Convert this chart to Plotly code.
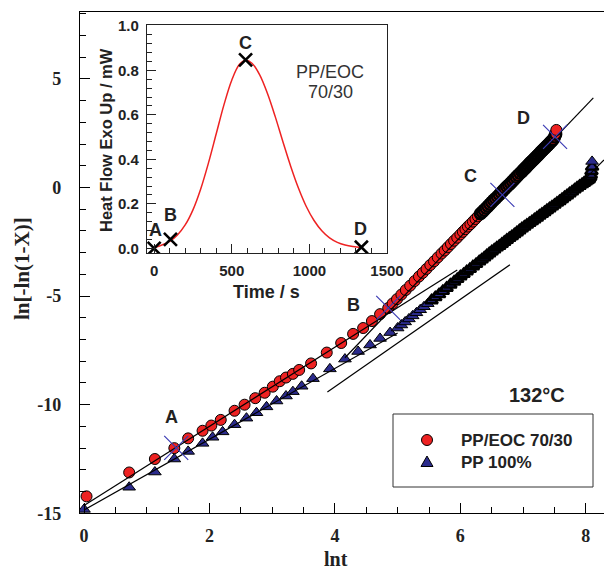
import plotly.graph_objects as go

# ---------------- data ----------------
# PP/EOC 70/30 : ln[-ln(1-X)] vs lnt
red_lnt_early = [0.04, 0.72, 1.13, 1.44, 1.66, 1.89, 2.03, 2.18, 2.40, 2.56, 2.73, 2.88,
                 3.01, 3.12, 3.22, 3.33, 3.43, 3.62, 3.87, 4.10, 4.29, 4.45, 4.59, 4.72]
red_y_early = [-14.22, -13.12, -12.50, -12.00, -11.55, -11.20, -10.96, -10.70, -10.28, -10.00,
               -9.70, -9.45, -9.17, -8.92, -8.75, -8.58, -8.40, -8.10, -7.60, -7.16, -6.74,
               -6.47, -6.15, -5.83]
red_lnt_late = [4.85, 4.92, 4.99, 5.06, 5.13, 5.20, 5.27, 5.34, 5.40, 5.46, 5.52, 5.58, 5.64,
                5.70, 5.75, 5.80, 5.85, 5.90, 5.95, 6.00, 6.04, 6.08, 6.12, 6.16, 6.20, 6.24,
                6.28, 6.32, 6.35, 6.38, 6.41, 6.44, 6.47, 6.50, 6.53, 6.56, 6.59, 6.62, 6.65,
                6.68, 6.71, 6.74, 6.77, 6.80, 6.83, 6.86, 6.89, 6.92, 6.95, 6.98, 7.00, 7.02,
                7.04, 7.06, 7.08, 7.10, 7.12, 7.14, 7.16, 7.18, 7.20, 7.22, 7.24, 7.26, 7.28,
                7.30, 7.32, 7.34, 7.36, 7.38, 7.40, 7.42, 7.44, 7.46, 7.48, 7.50, 7.52]
red_y_late = [-5.55, -5.34, -5.14, -4.93, -4.72, -4.52, -4.31, -4.10, -3.93, -3.75, -3.57,
              -3.40, -3.22, -3.04, -2.90, -2.75, -2.60, -2.45, -2.31, -2.16, -2.04, -1.92,
              -1.80, -1.69, -1.57, -1.45, -1.33, -1.21, -1.13, -1.04, -0.95, -0.86, -0.77,
              -0.68, -0.59, -0.51, -0.42, -0.33, -0.24, -0.15, -0.06, 0.03, 0.11, 0.20, 0.29,
              0.38, 0.47, 0.56, 0.65, 0.73, 0.79, 0.85, 0.91, 0.97, 1.03, 1.09, 1.15, 1.21,
              1.26, 1.32, 1.38, 1.44, 1.50, 1.56, 1.62, 1.68, 1.74, 1.80, 1.85, 1.91, 1.97,
              2.03, 2.09, 2.15, 2.21, 2.33, 2.45]
red_lnt_end = [7.53]
red_y_end = [2.65]

# PP 100%
blue_lnt_early = [0.0, 0.72, 1.13, 1.44, 1.66, 1.89, 2.05, 2.21, 2.40, 2.59, 2.75, 2.91,
                  3.07, 3.22, 3.33, 3.47, 3.65, 3.92, 4.16, 4.37, 4.56, 4.72, 4.88, 5.00]
blue_y_early = [-14.82, -13.80, -13.10, -12.50, -12.15, -11.78, -11.50, -11.25, -10.92,
                -10.62, -10.37, -10.10, -9.83, -9.60, -9.40, -9.15, -8.80, -8.35, -7.90,
                -7.55, -7.25, -6.95, -6.68, -6.47]
blue_lnt_late = [5.06, 5.12, 5.18, 5.24, 5.30, 5.36, 5.42, 5.48, 5.54, 5.60, 5.66, 5.72, 5.78,
                 5.84, 5.90, 5.95, 6.00, 6.05, 6.10, 6.15, 6.20, 6.25, 6.30, 6.34, 6.38, 6.42,
                 6.46, 6.50, 6.54, 6.58, 6.62, 6.66, 6.70, 6.74, 6.78, 6.82, 6.86, 6.90, 6.94,
                 6.98, 7.02, 7.06, 7.10, 7.14, 7.18, 7.22, 7.26, 7.30, 7.34, 7.38, 7.42, 7.46,
                 7.50, 7.54, 7.58, 7.62, 7.66, 7.70, 7.74, 7.78, 7.82, 7.86, 7.90, 7.94, 7.97,
                 8.00, 8.03, 8.05, 8.07, 8.08, 8.09, 8.10]
blue_y_late = [-6.33, -6.19, -6.05, -5.91, -5.77, -5.63, -5.49, -5.35, -5.20, -5.06, -4.92,
               -4.77, -4.63, -4.48, -4.34, -4.22, -4.10, -3.99, -3.87, -3.76, -3.64, -3.53,
               -3.41, -3.32, -3.23, -3.13, -3.04, -2.95, -2.86, -2.77, -2.69, -2.60, -2.51,
               -2.42, -2.33, -2.25, -2.16, -2.07, -1.98, -1.89, -1.81, -1.72, -1.64, -1.56,
               -1.47, -1.39, -1.30, -1.22, -1.14, -1.05, -0.97, -0.88, -0.80, -0.71, -0.63,
               -0.54, -0.45, -0.37, -0.28, -0.19, -0.10, -0.01, 0.07, 0.15, 0.21, 0.27, 0.33,
               0.38, 0.48, 0.58, 0.75, 0.95]
blue_lnt_end = [8.10]
blue_y_end = [1.20]

# fitted straight lines (end points)
fit_red_early_x, fit_red_early_y = [0.0, 5.95], [-14.64, -3.80]
fit_blue_early_x, fit_blue_early_y = [0.0, 5.00], [-14.85, -6.70]
fit_lower_x, fit_lower_y = [3.88, 6.79], [-9.42, -3.56]
fit_red_late_x, fit_red_late_y = [4.16, 8.12], [-7.84, 4.13]
fit_blue_late_x, fit_blue_late_y = [7.70, 8.29], [-0.44, 1.27]

# marked stages A-D on the PP/EOC curve
stage_names = ["A", "B", "C", "D"]
stage_lnt = [1.47, 4.85, 6.67, 7.51]
stage_y = [-11.99, -5.54, -0.34, 2.33]

# inset: DSC heat flow of PP/EOC 70/30
time_s = [0, 50, 100, 150, 200, 250, 300, 350, 400, 450, 500, 550, 590, 630, 680, 730, 780,
          830, 880, 930, 980, 1030, 1080, 1130, 1180, 1230, 1280, 1340]
heat_flow = [0.003, 0.015, 0.031, 0.060, 0.105, 0.173, 0.267, 0.384, 0.515, 0.646, 0.756,
             0.827, 0.845, 0.832, 0.780, 0.696, 0.592, 0.478, 0.368, 0.270, 0.188, 0.125,
             0.079, 0.047, 0.027, 0.015, 0.008, 0.003]
inset_stage_t = [0, 105, 589, 1335]
inset_stage_hf = [0.0, 0.04, 0.847, 0.005]

main_xticks = [0, 2, 4, 6, 8]
main_yticks = [-15, -10, -5, 0, 5]
inset_xticks = [0, 500, 1000, 1500]
inset_yticks = [0.0, 0.2, 0.4, 0.6, 0.8, 1.0]

# ---------------- styling ----------------
W, H = 604, 570
RED = "#ee2222"
NAVY = "#2b2b8c"
XBLUE = "#3c3cb4"
SERIF = "Liberation Serif"
SANS = "Liberation Sans"


def px(x):
    return x / W


def py(y):
    return 1 - y / H


fig = go.Figure()


def mk(xs, ys, symbol, color, lw, axes=("x", "y")):
    fig.add_trace(go.Scatter(
        x=xs, y=ys, mode="markers", xaxis=axes[0], yaxis=axes[1], showlegend=False,
        marker=dict(symbol=symbol, size=11, color=color, line=dict(color="black", width=lw))))


# PP 100 %
mk(blue_lnt_early, blue_y_early, "triangle-up", NAVY, 1)
bl_a = [(a, b) for a, b in zip(blue_lnt_late, blue_y_late) if a < 5.5]
bl_b = [(a, b) for a, b in zip(blue_lnt_late, blue_y_late) if a >= 5.5]
mk([p[0] for p in bl_a], [p[1] for p in bl_a], "triangle-up", NAVY, 1)
mk([p[0] for p in bl_b], [p[1] for p in bl_b], "triangle-up", NAVY, 2.4)
mk(blue_lnt_end, blue_y_end, "triangle-up", NAVY, 1)

# PP/EOC 70/30
mk(red_lnt_early, red_y_early, "circle", RED, 1)
rl_a = [(a, b) for a, b in zip(red_lnt_late, red_y_late) if a < 6.3]
rl_b = [(a, b) for a, b in zip(red_lnt_late, red_y_late) if a >= 6.3]
mk([p[0] for p in rl_a], [p[1] for p in rl_a], "circle", RED, 1)
mk([p[0] for p in rl_b], [p[1] for p in rl_b], "circle", RED, 2.4)
mk(red_lnt_end, red_y_end, "circle", RED, 1)

for fx, fy in [(fit_red_early_x, fit_red_early_y), (fit_blue_early_x, fit_blue_early_y),
               (fit_lower_x, fit_lower_y), (fit_red_late_x, fit_red_late_y),
               (fit_blue_late_x, fit_blue_late_y)]:
    fig.add_trace(go.Scatter(x=fx, y=fy, mode="lines", showlegend=False,
                             line=dict(color="black", width=1.2)))

fig.add_trace(go.Scatter(x=stage_lnt, y=stage_y, mode="markers", showlegend=False,
                         marker=dict(symbol="x-thin", size=24,
                                     line=dict(color=XBLUE, width=1.2))))

# inset
fig.add_trace(go.Scatter(x=time_s, y=heat_flow, mode="lines", xaxis="x2", yaxis="y2",
                         showlegend=False, line=dict(color=RED, width=1.5, shape="spline")))
fig.add_trace(go.Scatter(x=inset_stage_t, y=inset_stage_hf, mode="markers", xaxis="x2",
                         yaxis="y2", showlegend=False,
                         marker=dict(symbol="x-thin", size=13,
                                     line=dict(color="black", width=2.6))))


def txt(x, y, text, family, size, xref="paper", yref="paper", bold=True, angle=0,
        xanchor="center", color="#222"):
    return dict(x=x, y=y, xref=xref, yref=yref, text=text, showarrow=False,
                xanchor=xanchor, yanchor="middle", textangle=angle,
                font=dict(family=family, size=size, color=color,
                          weight="bold" if bold else "normal"))


ann = []
# main stage labels
for name, lx, ly in zip(stage_names, [1.40, 4.29, 6.16, 7.00], [-10.57, -5.40, 0.53, 3.19]):
    ann.append(txt(lx, ly, name, SANS, 18, "x", "y"))
ann.append(txt(7.22, -9.55, "132°C", SANS, 20, "x", "y"))
# inset stage labels
for name, lx, ly in zip(stage_names, [11, 105, 589, 1327], [0.082, 0.15, 0.925, 0.087]):
    ann.append(txt(lx, ly, name, SANS, 18, "x2", "y2"))
ann.append(txt(px(330), py(72), "PP/EOC", SANS, 18, bold=False, color="#333"))
ann.append(txt(px(330), py(92), "70/30", SANS, 18, bold=False, color="#333"))
# axis titles
ann.append(txt(px(22), py(269), "ln[-ln(1-X)]", SERIF, 21, angle=-90))
ann.append(txt(px(336), py(559), "lnt", SERIF, 20))
ann.append(txt(px(106), py(140), "Heat Flow Exo Up / mW", SANS, 16.5, angle=-90))
ann.append(txt(px(266), py(292), "Time / s", SANS, 18))
# legend texts
for t_, yy in [("PP/EOC 70/30", 440), ("PP 100%", 462)]:
    ann.append(txt(px(459), py(yy), t_, SANS, 17, xanchor="left"))

shapes = [
    dict(type="rect", xref="paper", yref="paper", x0=px(393), x1=px(593), y0=py(487),
         y1=py(414), line=dict(color="#333", width=1), fillcolor="white"),
    dict(type="circle", xref="paper", yref="paper", xsizemode="pixel", ysizemode="pixel",
         xanchor=px(427), yanchor=py(440), x0=-5.5, x1=5.5, y0=-5.5, y1=5.5,
         fillcolor=RED, line=dict(color="black", width=1)),
    dict(type="path", xref="paper", yref="paper", xsizemode="pixel", ysizemode="pixel",
         xanchor=px(427), yanchor=py(462), path="M -6,-4.5 L 6,-4.5 L 0,6 Z",
         fillcolor=NAVY, line=dict(color="black", width=1)),
]

tick_serif = dict(family=SERIF, size=18, color="#222", weight="bold")
tick_sans = dict(family=SANS, size=15, color="#222", weight="bold")

fig.update_layout(
    width=W, height=H, margin=dict(l=0, r=0, t=0, b=0, autoexpand=False),
    paper_bgcolor="white", plot_bgcolor="white", showlegend=False,
    annotations=ann, shapes=shapes,
    xaxis=dict(domain=[px(80), 1.0], range=[-0.064, 8.29], anchor="y", automargin=False,
               showline=True, linecolor="black", linewidth=1.3, mirror=True,
               showgrid=False, zeroline=False,
               tickmode="array", tickvals=main_xticks, ticktext=[str(v) for v in main_xticks],
               ticks="inside", ticklen=10, tickwidth=1.2, tickcolor="black",
               ticklabelstandoff=6, tickfont=tick_serif, ticklabeloverflow="allow",
               minor=dict(tickmode="linear", tick0=0, dtick=0.5, ticks="inside",
                          ticklen=6, tickwidth=1, tickcolor="black")),
    yaxis=dict(domain=[py(513.3), py(12)], range=[-15, 8.08], anchor="x", automargin=False,
               showline=True, linecolor="black", linewidth=1.3, mirror=False,
               showgrid=False, zeroline=False,
               tickmode="array", tickvals=main_yticks, ticktext=[str(v) for v in main_yticks],
               ticks="inside", ticklen=10, tickwidth=1.2, tickcolor="black",
               ticklabelstandoff=14, tickfont=tick_serif,
               minor=dict(tickmode="linear", tick0=0, dtick=1, ticks="inside",
                          ticklen=6, tickwidth=1, tickcolor="black")),
    xaxis2=dict(domain=[px(147), px(387)], range=[-46, 1500], anchor="y2", automargin=False,
                showline=True, linecolor="#222", linewidth=1.3, mirror=True,
                showgrid=False, zeroline=False,
                tickmode="array", tickvals=inset_xticks,
                ticktext=[str(v) for v in inset_xticks],
                ticks="inside", ticklen=9, tickwidth=1.2, tickcolor="#222",
                ticklabelstandoff=4, tickfont=tick_sans,
                minor=dict(tickmode="linear", tick0=0, dtick=100, ticks="inside",
                           ticklen=5, tickwidth=1, tickcolor="#222")),
    yaxis2=dict(domain=[py(253), py(25)], range=[-0.021, 1.004], anchor="x2", automargin=False,
                showline=True, linecolor="#222", linewidth=1.3, mirror=True,
                showgrid=False, zeroline=False,
                tickmode="array", tickvals=inset_yticks,
                ticktext=["%.1f" % v for v in inset_yticks],
                ticks="inside", ticklen=9, tickwidth=1.2, tickcolor="#222",
                ticklabelstandoff=4, tickfont=tick_sans,
                minor=dict(tickmode="linear", tick0=0, dtick=0.04, ticks="inside",
                           ticklen=5, tickwidth=1, tickcolor="#222")),
)

fig.write_html("out.html")
